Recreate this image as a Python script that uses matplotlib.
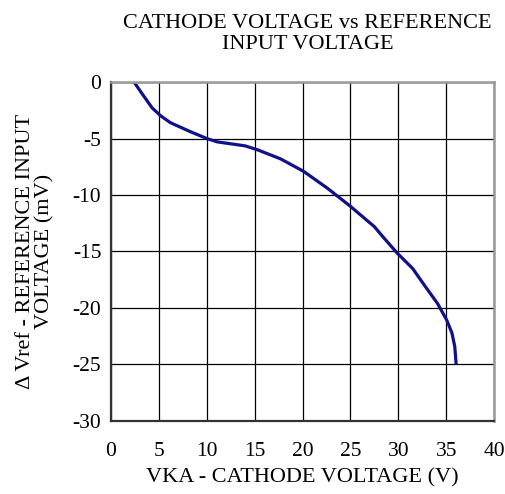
import matplotlib
matplotlib.use("Agg")
import matplotlib.pyplot as plt

plt.rcParams['font.family'] = ['Liberation Serif', 'DejaVu Serif']
plt.rcParams['axes.unicode_minus'] = False

# curve
vka = [2.4, 3.3, 4.3, 5.2, 6.2, 8.3, 10.0, 11.1, 14.0, 15.3, 17.7, 20.1,
       22.6, 25.0, 27.5, 28.5, 29.9, 31.5, 32.7, 34.1, 35.05, 35.6, 35.9, 36.05]
dvref = [0.0, -1.1, -2.3, -3.0, -3.6, -4.4, -5.0, -5.3, -5.65, -6.0, -6.8, -7.9,
         -9.4, -11.0, -12.8, -13.8, -15.15, -16.5, -17.95, -19.6, -21.05, -22.2, -23.4, -25.0]

xticks = [0, 5, 10, 15, 20, 25, 30, 35, 40]
yticks = [0, -5, -10, -15, -20, -25, -30]

fig = plt.figure(figsize=(5.06, 4.94), dpi=100)
ax = fig.add_axes([0.2194, 0.1478, 0.7569, 0.6862])

ax.plot(vka, dvref, color='#10108a', lw=2.3, solid_capstyle='butt')

ax.set_xlim(0, 40)
ax.set_ylim(-30, 0)
ax.set_xticks(xticks)
ax.set_yticks(yticks)
ax.grid(True, color='black', lw=0.9)
ax.tick_params(length=0, labelsize=15.5)
ax.tick_params(axis='x', pad=15)
ax.tick_params(axis='y', pad=7)

for s in ['top', 'right']:
    ax.spines[s].set_color('#999999')
    ax.spines[s].set_linewidth(1.8)
for s in ['left', 'bottom']:
    ax.spines[s].set_color('#333333')
    ax.spines[s].set_linewidth(1.6)

ax.set_xlabel('VKA - CATHODE VOLTAGE (V)', fontsize=16, labelpad=5)
ax.set_ylabel('Δ Vref - REFERENCE INPUT\nVOLTAGE (mV)', fontsize=16, labelpad=13,
              linespacing=1.05)
ax.set_title('CATHODE VOLTAGE vs REFERENCE\nINPUT VOLTAGE', fontsize=16, pad=24,
             linespacing=1.1, x=0.513)

fig.savefig('out.png', dpi=100)
